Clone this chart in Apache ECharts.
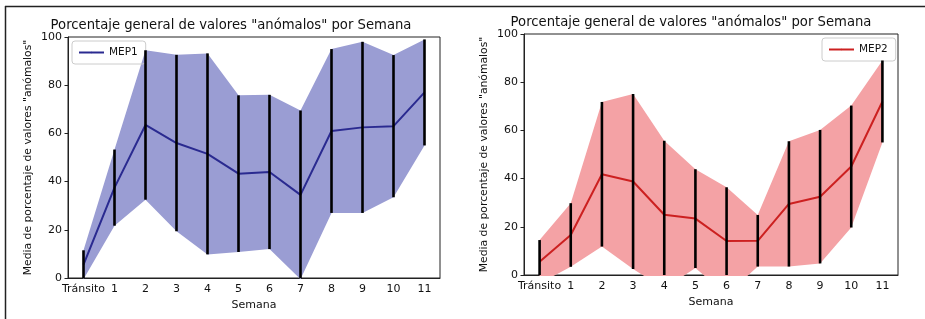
<!DOCTYPE html>
<html>
<head>
<meta charset="utf-8">
<script src="https://cdn.jsdelivr.net/npm/echarts@6/dist/echarts.min.js"></script>
<style>
  html, body { margin: 0; padding: 0; background: #fff; }
  #chart { width: 925px; height: 319px; }
</style>
</head>
<body>
<div id="chart"></div>
<script>
// categories
const weeks = ['Tránsito', '1', '2', '3', '4', '5', '6', '7', '8', '9', '10', '11'];
const yTicks = [0, 20, 40, 60, 80, 100];

// MEP1: mean and std of % anomalous values per week
const mep1Mean = [5.5, 37.5, 63.5, 56, 51.5, 43.3, 44, 34.5, 61, 62.5, 63, 77];
const mep1Std = [6, 15.8, 31, 36.6, 41.7, 32.5, 32, 35, 34, 35.5, 29.5, 22];

// MEP2
const mep2Mean = [5.5, 16.6, 41.8, 38.8, 25, 23.4, 14.1, 14.2, 29.5, 32.5, 45, 72];
const mep2Std = [9, 13.2, 30, 36.3, 30.7, 20.5, 22.3, 10.7, 26, 27.7, 25.3, 17];

const FONT = 'DejaVu Sans';
const chart = echarts.init(document.getElementById('chart'), null, { renderer: 'canvas' });

function xAxisCfg(gridIndex) {
  return {
    type: 'category',
    gridIndex: gridIndex,
    data: weeks,
    boundaryGap: true,
    name: 'Semana',
    nameLocation: 'middle',
    nameGap: 19,
    nameTextStyle: { fontFamily: FONT, fontSize: 11, color: '#111' },
    axisLine: { lineStyle: { color: '#222', width: 1 } },
    axisTick: { alignWithLabel: true, length: 3.5, lineStyle: { color: '#222' } },
    axisLabel: { fontFamily: FONT, fontSize: 11, color: '#111', margin: 6, interval: 0 },
    splitLine: { show: false }
  };
}

function yAxisCfg(gridIndex) {
  return {
    type: 'value',
    gridIndex: gridIndex,
    min: yTicks[0],
    max: yTicks[yTicks.length - 1],
    interval: 20,
    name: 'Media de porcentaje de valores "anómalos"',
    nameLocation: 'middle',
    nameGap: 34,
    nameRotate: 90,
    nameTextStyle: { fontFamily: FONT, fontSize: 10.8, color: '#111' },
    axisLine: { show: true, lineStyle: { color: '#222', width: 1 } },
    axisTick: { show: true, length: 3.5, lineStyle: { color: '#222' } },
    axisLabel: { fontFamily: FONT, fontSize: 11, color: '#111', margin: 6 },
    splitLine: { show: false }
  };
}

function bandSeries(idx, mean, std, name, lineColor, fillColor) {
  const lower = mean.map((m, i) => m - std[i]);
  const width = std.map(s => 2 * s);
  const stackId = 'band' + idx;
  return [
    {
      type: 'line', xAxisIndex: idx, yAxisIndex: idx,
      data: lower, stack: stackId, stackStrategy: 'all',
      symbol: 'none', lineStyle: { opacity: 0 }, silent: true, z: 1
    },
    {
      type: 'line', xAxisIndex: idx, yAxisIndex: idx,
      data: width, stack: stackId, stackStrategy: 'all',
      symbol: 'none', lineStyle: { opacity: 0 },
      areaStyle: { color: fillColor, opacity: 1 }, silent: true, z: 1
    },
    {
      type: 'line', name: name, xAxisIndex: idx, yAxisIndex: idx,
      data: mean, symbol: 'none',
      lineStyle: { color: lineColor, width: 2 }, itemStyle: { color: lineColor }, z: 3
    },
    {
      type: 'custom', xAxisIndex: idx, yAxisIndex: idx,
      data: mean.map((m, i) => [i, m - std[i], m + std[i]]),
      encode: { x: 0, y: [1, 2] },
      z: 4,
      renderItem: function (params, api) {
        const cs = params.coordSys;
        const lo = api.coord([api.value(0), api.value(1)]);
        const hi = api.coord([api.value(0), api.value(2)]);
        const clamp = v => Math.max(cs.y, Math.min(cs.y + cs.height, v));
        return {
          type: 'line',
          shape: { x1: lo[0], y1: clamp(lo[1]), x2: hi[0], y2: clamp(hi[1]) },
          style: { stroke: '#000', lineWidth: 2.6 }
        };
      }
    }
  ];
}

const titleStyle = { fontFamily: FONT, fontSize: 13.2, fontWeight: 'normal', color: '#111' };
const legendText = { fontFamily: FONT, fontSize: 10.5, color: '#111' };

const option = {
  backgroundColor: '#fff',
  animation: false,
  title: [
    { text: 'Porcentaje general de valores "anómalos" por Semana', left: 231, top: 19, textAlign: 'center', textStyle: titleStyle, padding: 0 },
    { text: 'Porcentaje general de valores "anómalos" por Semana', left: 691, top: 16, textAlign: 'center', textStyle: titleStyle, padding: 0 }
  ],
  legend: [
    {
      data: ['MEP1'], left: 72, top: 41, orient: 'vertical',
      itemWidth: 25, itemHeight: 2, itemGap: 6,
      borderColor: '#ccc', borderWidth: 1, borderRadius: 3, padding: [6, 8, 6, 6],
      textStyle: legendText
    },
    {
      data: ['MEP2'], left: 822, top: 38, orient: 'vertical',
      itemWidth: 25, itemHeight: 2, itemGap: 6,
      borderColor: '#ccc', borderWidth: 1, borderRadius: 3, padding: [6, 8, 6, 6],
      textStyle: legendText
    }
  ],
  grid: [
    { left: 68, top: 37, width: 372, height: 241, show: true, borderColor: '#222', borderWidth: 1, backgroundColor: 'transparent' },
    { left: 524, top: 34, width: 374, height: 241, show: true, borderColor: '#222', borderWidth: 1, backgroundColor: 'transparent' }
  ],
  xAxis: [xAxisCfg(0), xAxisCfg(1)],
  yAxis: [yAxisCfg(0), yAxisCfg(1)],
  series: [].concat(
    bandSeries(0, mep1Mean, mep1Std, 'MEP1', '#2a2a90', '#9a9dd3'),
    bandSeries(1, mep2Mean, mep2Std, 'MEP2', '#cc2020', '#f4a2a5')
  ),
  graphic: [
    { type: 'line', shape: { x1: 5.5, y1: 6, x2: 5.5, y2: 319 }, style: { stroke: '#222', lineWidth: 1.5 }, silent: true },
    { type: 'line', shape: { x1: 5, y1: 6.5, x2: 925, y2: 6.5 }, style: { stroke: '#222', lineWidth: 1.5 }, silent: true }
  ]
};

chart.setOption(option);
</script>
</body>
</html>
